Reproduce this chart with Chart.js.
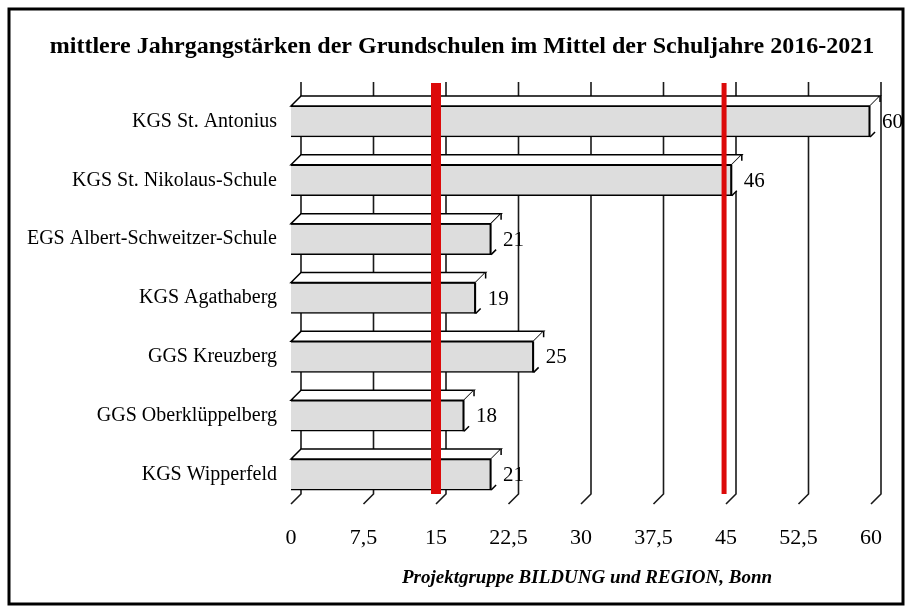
<!DOCTYPE html>
<html>
<head>
<meta charset="utf-8">
<title>Jahrgangsstärken</title>
<script src="https://cdn.jsdelivr.net/npm/chart.js@4.4.0/dist/chart.umd.min.js"></script>
<style>
    html, body { margin: 0; padding: 0; background: #fff; }
    #wrap { width: 910px; height: 611px; }
</style>
</head>
<body>
<div id="wrap"><canvas id="myChart" width="910" height="611"></canvas></div>
<script>
// Daten
var schulen = [
    'KGS St. Antonius',
    'KGS St. Nikolaus-Schule',
    'EGS Albert-Schweitzer-Schule',
    'KGS Agathaberg',
    'GGS Kreuzberg',
    'GGS Oberklüppelberg',
    'KGS Wipperfeld'
];
var staerken = [59.9, 45.6, 20.7, 19.1, 25.1, 17.9, 20.7];
var tickWerte = [0, 7.5, 15, 22.5, 30, 37.5, 45, 52.5, 60];
var tickLabels = ['0', '7,5', '15', '22,5', '30', '37,5', '45', '52,5', '60'];
var grenzWerte = [15, 44.8];

var titelText = 'mittlere Jahrgangstärken der Grundschulen im Mittel der Schuljahre 2016-2021';
var quelleText = 'Projektgruppe BILDUNG und REGION, Bonn';

const TIEFE = 10; // Tiefe des 3D-Effekts
const SCHRIFT = '"Liberation Serif", "Times New Roman", serif';

const dreiD = {
    id: 'dreiD',
    beforeDraw(chart) {
        const ctx = chart.ctx;
        ctx.save();
        ctx.fillStyle = '#fff';
        ctx.fillRect(0, 0, chart.width, chart.height);
        // Rahmen
        ctx.strokeStyle = '#000';
        ctx.lineWidth = 3;
        ctx.strokeRect(9, 9, 894, 595);
        // Titel
        ctx.fillStyle = '#000';
        ctx.textAlign = 'center';
        ctx.textBaseline = 'middle';
        ctx.font = 'bold 24px ' + SCHRIFT;
        ctx.fillText(titelText, 462, 47);
        // Quelle
        ctx.font = 'italic bold 19px ' + SCHRIFT;
        ctx.fillText(quelleText, 587, 578);
        ctx.restore();
    },
    beforeDatasetsDraw(chart) {
        // Gitterlinien an der Rückwand
        const ctx = chart.ctx;
        const xs = chart.scales.x;
        const area = chart.chartArea;
        ctx.save();
        ctx.strokeStyle = '#1a1a1a';
        ctx.lineWidth = 1.6;
        tickWerte.forEach(function (v) {
            const px = xs.getPixelForValue(v);
            ctx.beginPath();
            ctx.moveTo(px + TIEFE, area.top - TIEFE);
            ctx.lineTo(px + TIEFE, area.bottom - TIEFE);
            ctx.lineTo(px, area.bottom);
            ctx.stroke();
        });
        ctx.restore();
    },
    afterDatasetsDraw(chart) {
        const ctx = chart.ctx;
        const meta = chart.getDatasetMeta(0);
        const xs = chart.scales.x;
        const area = chart.chartArea;
        ctx.save();
        ctx.strokeStyle = '#000';
        ctx.lineWidth = 1.5;
        meta.data.forEach(function (bar) {
            const p = bar.getProps(['x', 'y', 'base', 'height'], true);
            const y0 = p.y - p.height / 2;
            const y1 = p.y + p.height / 2;
            // Deckfläche
            ctx.fillStyle = '#fff';
            ctx.beginPath();
            ctx.moveTo(p.base, y0);
            ctx.lineTo(p.base + TIEFE, y0 - TIEFE);
            ctx.lineTo(p.x + TIEFE, y0 - TIEFE);
            ctx.lineTo(p.x, y0);
            ctx.closePath();
            ctx.fill();
            ctx.stroke();
            // Seitenfläche (nur Ecken gezeichnet wie im Original)
            ctx.beginPath();
            ctx.moveTo(p.x, y0);
            ctx.lineTo(p.x + TIEFE, y0 - TIEFE);
            ctx.lineTo(p.x + TIEFE, y1 - TIEFE);
            ctx.lineTo(p.x, y1);
            ctx.closePath();
            ctx.fill();
            ctx.beginPath();
            ctx.moveTo(p.x + TIEFE, y0 - TIEFE + 6);
            ctx.lineTo(p.x + TIEFE, y0 - TIEFE);
            ctx.moveTo(p.x, y1);
            ctx.lineTo(p.x + TIEFE * 0.5, y1 - TIEFE * 0.5);
            ctx.stroke();
            // vordere rechte Kante etwas kräftiger
            ctx.lineWidth = 2;
            ctx.beginPath();
            ctx.moveTo(p.x - 0.5, y0);
            ctx.lineTo(p.x - 0.5, y1);
            ctx.stroke();
            ctx.lineWidth = 1.5;
        });

        // rote Linien
        ctx.strokeStyle = 'rgb(220, 10, 10)';
        grenzWerte.forEach(function (v, i) {
            const px = xs.getPixelForValue(v);
            ctx.lineWidth = i === 0 ? 10 : 5;
            ctx.beginPath();
            ctx.moveTo(px, area.top - TIEFE + 1);
            ctx.lineTo(px, area.bottom - TIEFE);
            ctx.stroke();
        });

        // Werte
        ctx.fillStyle = '#000';
        ctx.font = '21px ' + SCHRIFT;
        ctx.textAlign = 'left';
        ctx.textBaseline = 'middle';
        meta.data.forEach(function (bar, i) {
            ctx.fillText(String(Math.round(staerken[i])), bar.x + TIEFE + 2, bar.y + 1);
        });
        ctx.restore();
    }
};

const ctx = document.getElementById('myChart').getContext('2d');
const myChart = new Chart(ctx, {
    type: 'bar',
    data: {
        labels: schulen,
        datasets: [{
            data: staerken,
            backgroundColor: '#dddddd',
            borderColor: '#000',
            borderWidth: 1.5,
            barThickness: 31
        }]
    },
    options: {
        indexAxis: 'y',
        responsive: false,
        animation: false,
        layout: {
            padding: { top: 92, right: 39, bottom: 57, left: 0 }
        },
        plugins: {
            legend: { display: false },
            tooltip: { enabled: false }
        },
        scales: {
            x: {
                min: 0,
                max: 60,
                afterBuildTicks: function (scale) {
                    scale.ticks = tickWerte.map(v => ({ value: v }));
                },
                afterFit: function (scale) {
                    scale.height = 50;
                },
                ticks: {
                    autoSkip: false,
                    maxRotation: 0,
                    padding: 13,
                    color: '#000',
                    font: { family: SCHRIFT, size: 22 },
                    callback: function (value, index) {
                        return tickLabels[index];
                    }
                },
                grid: { display: false },
                border: { display: false }
            },
            y: {
                afterFit: function (scale) {
                    scale.width = 291;
                },
                ticks: {
                    padding: 14,
                    color: '#000',
                    font: { family: SCHRIFT, size: 20 }
                },
                grid: { display: false, drawTicks: false },
                border: { display: false }
            }
        }
    },
    plugins: [dreiD]
});
</script>
</body>
</html>
